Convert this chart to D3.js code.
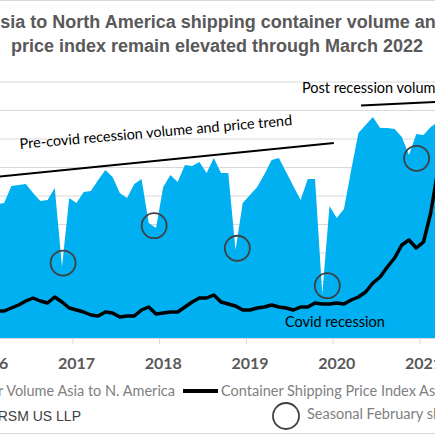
<!DOCTYPE html>
<html>
<head>
<meta charset="utf-8">
<script src="https://cdnjs.cloudflare.com/ajax/libs/d3/7.8.5/d3.min.js"></script>
<style>
  html, body { margin: 0; padding: 0; background: #fff; overflow: hidden; }
  svg { display: block; }
</style>
</head>
<body>
<div id="chart"></div>
<script>
// Monthly categories (text axis, one label every 12 months)
const months = [
  "2016-01","2016-02","2016-03","2016-04","2016-05","2016-06","2016-07","2016-08","2016-09","2016-10","2016-11","2016-12",
  "2017-01","2017-02","2017-03","2017-04","2017-05","2017-06","2017-07","2017-08","2017-09","2017-10","2017-11","2017-12",
  "2018-01","2018-02","2018-03","2018-04","2018-05","2018-06","2018-07","2018-08","2018-09","2018-10","2018-11","2018-12",
  "2019-01","2019-02","2019-03","2019-04","2019-05","2019-06","2019-07","2019-08","2019-09","2019-10","2019-11","2019-12",
  "2020-01","2020-02","2020-03","2020-04","2020-05","2020-06","2020-07","2020-08","2020-09","2020-10","2020-11","2020-12",
  "2021-01","2021-02","2021-03","2021-04","2021-05","2021-06"
];

// Container volume Asia to N. America (thousand TEU)
const volume = [
  1004, 688, 863, 968, 940, 947, 1067, 1074, 1081, 1018, 961, 968,
  1053, 500, 983, 947, 1025, 1032, 1109, 1179, 1130, 1018, 983, 1081,
  1116, 807, 772, 1060, 1144, 1095, 1214, 1207, 1235, 1158, 1263, 1158,
  1158, 618, 947, 1004, 1060, 1150, 1249, 1263, 1165, 1067, 968, 1116,
  1116, 309, 926, 842, 905, 1179, 1439, 1495, 1551, 1474, 1474, 1467,
  1411, 1284, 1432, 1425, 1481, 1516
];

// Container shipping price index Asia to N. America ($ per FEU, secondary axis)
const priceIndex = [
  1825, 1965, 1825, 1895, 1895, 1895, 2105, 2316, 2597, 2807, 2597, 2456,
  2877, 2526, 2105, 1965, 1825, 1614, 1544, 1825, 1755, 1474, 1544, 1544,
  1965, 2176, 1684, 1755, 1825, 1825, 2176, 2526, 2807, 2807, 3018, 2526,
  2386, 2246, 1965, 1965, 2105, 2176, 2316, 2176, 2105, 1965, 2176, 2176,
  2456, 2386, 2386, 2456, 2386, 2667, 2877, 3228, 3860, 4281, 4983, 5614,
  6527, 6878, 6316, 6737, 8773, 11790
];

const yearLabels = ["2016", "2017", "2018", "2019", "2020", "2021"];
const yearLabelMonths = ["2016-04", "2017-04", "2018-04", "2019-04", "2020-04", "2021-04"];

// Annotations, in month index (0 = Jan 2016) and volume units
const seasonalCircleAt = [13.15, 25.75, 37.25, 49.7, 62.05];
const seasonalCircleLevel = [526, 788, 630, 367, 1261];
const preTrendAt = [3, 50.6];
const preTrendLevel = [1126, 1369];
const postTrendAt = [54.35, 68];
const postTrendLevel = [1632, 1665];

const width = 435, height = 435;
const plotTop = 81.5, plotBottom = 338;
const blue = "#00B0F0";
const grey = "#7f7f7f";
const textFont = "Lato, 'Open Sans', sans-serif";

const svg = d3.select("#chart").append("svg")
  .attr("width", width)
  .attr("height", height)
  .attr("viewBox", `0 0 ${width} ${height}`);

// Scales: one category per 7.23px, shown region is a crop of the wider chart
const step = 7.23;
const x = d3.scaleLinear()
  .domain([0, months.length - 1])
  .range([-32, -32 + step * (months.length - 1)]);
const y = d3.scaleLinear().domain([0, 1800]).range([plotBottom, plotTop]);
const yPrice = d3.scaleLinear().domain([0, 18000]).range([plotBottom, plotTop]);

// Chart border (only top and bottom edges fall inside the crop)
svg.append("rect")
  .attr("x", -60).attr("y", 0.5)
  .attr("width", width + 120).attr("height", 433)
  .attr("fill", "none").attr("stroke", "#d9d9d9");

// Gridlines
svg.append("g")
  .selectAll("line")
  .data(y.ticks(9).filter(d => d > 0))
  .join("line")
  .attr("x1", -60).attr("x2", width + 60)
  .attr("y1", d => y(d) + 0.5).attr("y2", d => y(d) + 0.5)
  .attr("stroke", "#d9d9d9").attr("stroke-width", 1);

// Volume area
const area = d3.area()
  .x((d, i) => x(i))
  .y0(y(0))
  .y1(d => y(d));

svg.append("path")
  .datum(volume)
  .attr("d", area)
  .attr("fill", blue);

// x axis line and ticks between categories
svg.append("line")
  .attr("x1", -60).attr("x2", width + 60)
  .attr("y1", plotBottom + 0.5).attr("y2", plotBottom + 0.5)
  .attr("stroke", "#d9d9d9");

const labelIdx = yearLabelMonths.map(m => months.indexOf(m));
svg.append("g")
  .selectAll("line")
  .data(labelIdx)
  .join("line")
  .attr("x1", d => x(d - 0.5)).attr("x2", d => x(d - 0.5))
  .attr("y1", plotBottom).attr("y2", plotBottom + 6)
  .attr("stroke", "#d9d9d9");

svg.append("g")
  .selectAll("text")
  .data(labelIdx)
  .join("text")
  .attr("x", d => x(d))
  .attr("y", 369)
  .attr("text-anchor", "middle")
  .attr("font-family", textFont)
  .attr("font-weight", "bold")
  .attr("font-size", 16)
  .attr("fill", "#595959")
  .text((d, i) => yearLabels[i]);

// Price index line
const line = d3.line()
  .x((d, i) => x(i))
  .y(d => yPrice(d));

svg.append("path")
  .datum(priceIndex)
  .attr("d", line)
  .attr("fill", "none")
  .attr("stroke", "#000")
  .attr("stroke-width", 3.5)
  .attr("stroke-linejoin", "round");

// Trend lines
const trend = d3.line().x(d => x(d[0])).y(d => y(d[1]));
[[preTrendAt, preTrendLevel], [postTrendAt, postTrendLevel]].forEach(([at, lv]) => {
  svg.append("path")
    .datum(at.map((a, i) => [a, lv[i]]))
    .attr("d", trend)
    .attr("fill", "none")
    .attr("stroke", "#000")
    .attr("stroke-width", 2);
});

// Seasonal February circles
svg.append("g")
  .selectAll("circle")
  .data(seasonalCircleAt)
  .join("circle")
  .attr("cx", d => x(d))
  .attr("cy", (d, i) => y(seasonalCircleLevel[i]))
  .attr("r", 12.5)
  .attr("fill", "none")
  .attr("stroke", "#404040")
  .attr("stroke-width", 1.8);

// Annotation texts
const note = (txt, tx, ty, rot) => svg.append("text")
  .attr("transform", `translate(${tx},${ty}) rotate(${rot || 0})`)
  .attr("font-family", textFont)
  .attr("font-size", 14.5)
  .attr("fill", "#000")
  .text(txt);

note("Pre-covid recession volume and price trend", 20, 149, -5);
note("Post recession volume and price trend", 302, 93);
note("Covid recession", 285, 327);

// Title
const title = svg.append("text")
  .attr("text-anchor", "middle")
  .attr("font-family", "'Liberation Sans', Arial, sans-serif")
  .attr("font-weight", "bold")
  .attr("font-size", 18)
  .attr("fill", "#595959");
title.append("tspan").attr("x", 217).attr("y", 28)
  .text("Asia to North America shipping container volume and");
title.append("tspan").attr("x", 217).attr("y", 52)
  .text("price index remain elevated through March 2022");

// Legend
svg.append("rect")
  .attr("x", -40).attr("y", 386).attr("width", 10).attr("height", 10)
  .attr("fill", blue);
svg.append("text")
  .attr("x", 175).attr("y", 396)
  .attr("text-anchor", "end")
  .attr("font-family", textFont).attr("font-size", 14.5).attr("fill", grey)
  .text("Container Volume Asia to N. America");
svg.append("line")
  .attr("x1", 183).attr("x2", 218).attr("y1", 391).attr("y2", 391)
  .attr("stroke", "#000").attr("stroke-width", 4);
svg.append("text")
  .attr("x", 221).attr("y", 396)
  .attr("font-family", textFont).attr("font-size", 14.5).attr("fill", grey)
  .text("Container Shipping Price Index Asia to N. America");

svg.append("text")
  .attr("x", 81).attr("y", 420.5)
  .attr("text-anchor", "end")
  .attr("font-family", "'Liberation Sans', Arial, sans-serif")
  .attr("font-size", 14).attr("fill", "#404040")
  .text("Source: RSM US LLP");
svg.append("circle")
  .attr("cx", 286).attr("cy", 416).attr("r", 13)
  .attr("fill", "none").attr("stroke", "#404040").attr("stroke-width", 1.8);
svg.append("text")
  .attr("x", 307).attr("y", 418.5)
  .attr("font-family", textFont).attr("font-size", 14.5).attr("fill", grey)
  .text("Seasonal February slowdown");
</script>
</body>
</html>
